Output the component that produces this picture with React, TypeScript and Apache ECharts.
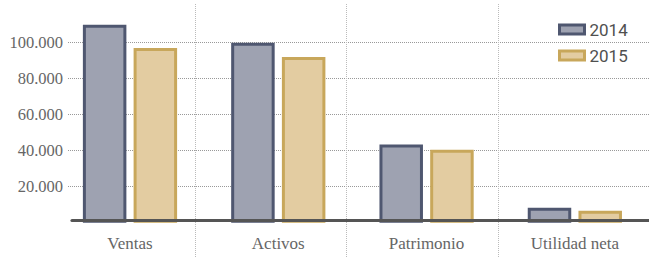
import React, { useEffect, useRef } from "react";
import * as echarts from "echarts";

const categories = ["Ventas", "Activos", "Patrimonio", "Utilidad neta"];
const values2014 = [110000, 100000, 43500, 8300];
const values2015 = [97000, 92000, 40500, 6700];
const seriesNames = ["2014", "2015"];
const yTickValues = [20000, 40000, 60000, 80000, 100000];
const yTickLabels = ["20.000", "40.000", "60.000", "80.000", "100.000"];

const serif = "Liberation Serif";

export default function App() {
  const ref = useRef<HTMLDivElement>(null);
  useEffect(() => {
    document.body.style.margin = "0";
    if (!ref.current) return;
    const chart = echarts.init(ref.current, undefined, { renderer: "svg" });
    const hiddenCat = {
      type: "category" as const,
      data: categories,
      axisLine: { show: false },
      axisTick: { show: false },
      axisLabel: { show: false },
      splitLine: { show: false },
    };
    const hiddenVal = { type: "value" as const, show: false, min: 0, max: 120000, interval: 20000 };
    chart.setOption({
      animation: false,
      backgroundColor: "#ffffff",
      textStyle: { fontFamily: serif },
      legend: {
        data: seriesNames,
        orient: "vertical",
        left: 558,
        top: 21,
        padding: 0,
        itemWidth: 25,
        itemHeight: 9,
        itemGap: 9,
        icon: "rect",
        itemStyle: { borderWidth: 3 },
        textStyle: { fontFamily: "Roboto", fontSize: 17, fontWeight: "normal", color: "#505050" },
      },
      grid: [
        { left: 55.85, right: -1.6, top: 6.7, bottom: 34.3 },
        { left: 68, right: 0, top: 6.7, bottom: 34.3 },
        { left: 44.3, right: -7.3, top: 4, bottom: 0 },
        { left: 72, right: 0, top: 6.7, bottom: 36.4 },
      ],
      xAxis: [
        {
          gridIndex: 0,
          type: "category",
          data: categories,
          axisLine: { show: false },
          axisTick: { show: false },
          splitLine: { show: false },
          axisLabel: { fontFamily: serif, fontSize: 17, color: "#666", margin: 12 },
        },
        { ...hiddenCat, gridIndex: 1 },
        {
          ...hiddenCat,
          gridIndex: 2,
          splitLine: {
            show: true,
            showMinLine: false,
            showMaxLine: false,
            lineStyle: { color: "#bbb", width: 1, type: [1, 1] },
          },
        },
        {
          ...hiddenCat,
          gridIndex: 3,
          z: 10,
          axisLine: { show: true, lineStyle: { color: "#555", width: 3.2 } },
        },
      ],
      yAxis: [
        { ...hiddenVal, gridIndex: 0 },
        {
          gridIndex: 1,
          type: "value",
          min: 0,
          max: 120000,
          interval: 20000,
          axisLine: { show: false },
          axisTick: { show: false },
          axisLabel: {
            showMinLabel: false,
            showMaxLabel: false,
            margin: 5,
            fontFamily: serif,
            fontSize: 16.5,
            color: "#666",
            formatter: (v: number) => {
              const i = yTickValues.indexOf(v);
              return i >= 0 ? yTickLabels[i] : "";
            },
          },
          splitLine: {
            show: true,
            showMinLine: false,
            showMaxLine: false,
            lineStyle: { color: "#999", width: 1, type: [1, 1] },
          },
        },
        { ...hiddenVal, gridIndex: 2 },
        { ...hiddenVal, gridIndex: 3 },
      ],
      series: [
        {
          name: seriesNames[0],
          type: "bar",
          xAxisIndex: 0,
          yAxisIndex: 0,
          data: values2014,
          barWidth: 43.5,
          barGap: "16.6%",
          itemStyle: { color: "#9ea2b1", borderColor: "#4f5770", borderWidth: 3 },
        },
        {
          name: seriesNames[1],
          type: "bar",
          xAxisIndex: 0,
          yAxisIndex: 0,
          data: values2015,
          barWidth: 43.5,
          barGap: "16.6%",
          itemStyle: { color: "#e3cca1", borderColor: "#c8a75b", borderWidth: 3 },
        },
      ],
    });
    return () => chart.dispose();
  }, []);
  return <div ref={ref} style={{ width: 649, height: 257 }} />;
}
